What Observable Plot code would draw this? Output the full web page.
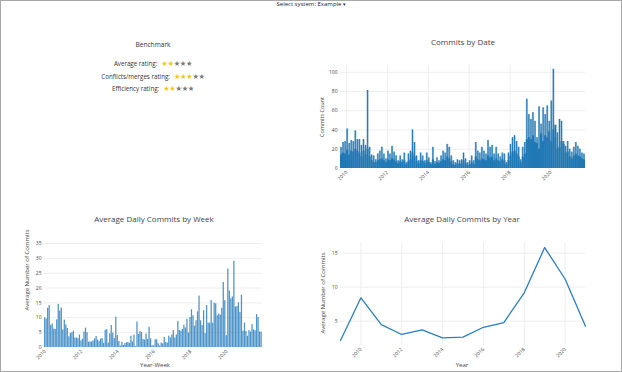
<!DOCTYPE html>
<html><head><meta charset="utf-8">
<script src="https://cdn.jsdelivr.net/npm/d3@7"></script>
<script src="https://cdn.jsdelivr.net/npm/@observablehq/plot@0.6"></script>
<style>
html,body{margin:0;padding:0;background:#fff;}
#page{position:relative;width:622px;height:372px;overflow:hidden;font-family:"Open Sans",sans-serif;color:#444;}
#frame{position:absolute;left:0;top:0;width:620px;height:370px;border:1px solid #a8a8a8;pointer-events:none;z-index:5;}
.abs{position:absolute;white-space:nowrap;}
.chart{position:absolute;}
.chart svg{overflow:visible;}
.row{position:absolute;left:53px;width:200px;text-align:center;font-size:6.2px;color:#333;line-height:8px;}
.star-on{color:#f2c80f;}
.star-off{color:#7a7a7a;}
.stars{font-family:"DejaVu Sans";font-size:7.2px;letter-spacing:-0.3px;margin-left:4px;}
</style></head><body>
<div id="page">
  <div id="frame"></div>
  <div class="abs" style="left:0;width:622px;top:0;text-align:center;font-size:6px;line-height:8px;color:#222;">Select system: Example <span style="font-family:'DejaVu Sans';font-size:5px;">&#9662;</span></div>
  <div class="abs" style="left:53px;width:200px;top:41px;text-align:center;font-size:6.6px;line-height:8px;color:#333;">Benchmark</div>
  <div id="ratings"></div>
  <div id="tr" class="chart" style="left:300px;top:55px;"></div>
  <div id="bl" class="chart" style="left:0px;top:230px;"></div>
  <div id="br" class="chart" style="left:300px;top:232px;"></div>
  <div id="labels"></div>
</div>
<script>
// ---------- data ----------
const ratingNames = ["Average rating:", "Conflicts/merges rating:", "Efficiency rating:"];
const ratingValues = [2, 3, 2];
const ratingMax = 5;

// Commits by Date: binned from 2009.7, one bin = 0.1 year
const dateStart = 2009.7;
const dateStep = 0.1;
const datePeak = [
  22, 27, 28, 41, 26, 29, 28, 39, 30, 30, 24, 30, 24, 81, 22, 14,
  13, 9, 15, 18, 22, 15, 10, 18, 15, 23, 17, 13, 8, 13, 9, 16, 6, 15, 18, 40, 27, 13, 8, 16,
  13, 8, 16, 11, 6, 22, 7, 11, 8, 13, 18, 16, 25, 22, 13, 8, 6, 9, 8, 9,
  16, 10, 6, 8, 13, 8, 27, 18, 16, 22, 18, 15, 29, 22, 24, 15, 22, 15, 12, 16,
  15, 6, 16, 25, 32, 34, 28, 22, 9, 22, 27, 72, 56, 51, 58, 49, 32, 64, 46, 63,
  56, 65, 49, 70, 103, 32, 37, 51, 49, 28, 23, 28, 20, 17, 22, 27, 23, 20, 16, 15
];
const dateBody = [
  14, 16, 15, 19, 14, 18, 17, 20, 18, 16, 12, 18, 14, 20,
  12, 8, 6, 6, 8, 9, 10, 8, 6, 9, 8, 10, 9, 7, 5, 7, 6, 8, 4, 7, 9, 16, 12, 7, 5, 8,
  7, 5, 8, 6, 4, 9, 4, 6, 5, 7, 9, 8, 12, 10, 7, 4, 3, 5, 4, 5,
  8, 5, 3, 4, 6, 4, 12, 9, 8, 10, 9, 8, 13, 11, 12, 8, 10, 8, 7, 9,
  8, 4, 8, 13, 17, 18, 15, 12, 6, 12, 15, 30, 32, 30, 34, 27, 26, 20, 36, 28,
  34, 32, 38, 28, 40, 45, 20, 22, 28, 25, 16, 17, 12, 10, 13, 15, 13, 12, 10, 9
];
const dateTicks = [2010, 2012, 2014, 2016, 2018, 2020];

// Average Daily Commits by Week (12 bars per year from 2010)
const weekFirstYear = 2010;
const weekAvg = [
  10, 9.6, 13.2, 14.1, 7.4, 7.9, 6.2, 6.1, 9.3, 14.5, 12.3, 13.3,
  5.9, 9.2, 7.6, 6.4, 3.6, 4.7, 5.0, 5.5, 3.2, 3.2, 3.0, 4.2,
  2.2, 2.8, 5.2, 6.5, 5.0, 1.8, 1.9, 1.9, 2.2, 2.9, 3.7, 2.5,
  2.0, 2.8, 3.0, 1.4, 5.8, 6.0, 1.5, 4.6, 7.4, 4.8, 3.0, 10.2,
  4.0, 2.0, 0.5, 1.8, 0.7, 1.3, 1.6, 1.7, 1.4, 3.8, 1.9, 4.2,
  0.3, 8.6, 4.4, 5.4, 5.0, 2.7, 2.5, 4.5, 2.7, 6.8, 2.9, 0.6,
  0.5, 2.6, 2.6, 1.3, 0.5, 1.5, 1.2, 3.4, 1.7, 1.5, 3.8, 3.2,
  4.2, 5.7, 3.2, 4.2, 8.7, 5.7, 5.5, 6.1, 7.5, 6.6, 9.5, 4.9,
  10.1, 12.7, 10.7, 7.2, 9.0, 12.0, 17.3, 9.0, 7.4, 12.4, 4.7, 14.1,
  8.2, 8.2, 15.8, 8.2, 14.9, 14.7, 10.7, 11.2, 10.9, 13.2, 21.9, 15.8,
  4.0, 26.4, 19.0, 16.4, 17.0, 29.0, 13.6, 13.8, 15.0, 11.8, 17.6, 5.5,
  8.2, 5.4, 3.8, 5.7, 5.2, 7.7, 5.9, 5.6, 11.1, 10.1, 5.2, 5.2
];
const weekYTicks = [0, 5, 10, 15, 20, 25, 30, 35];

// Average Daily Commits by Year
const years = [2009, 2010, 2011, 2012, 2013, 2014, 2015, 2016, 2017, 2018, 2019, 2020, 2021];
const yearAvg = [2.16, 8.43, 4.5, 3.04, 3.73, 2.55, 2.65, 4.1, 4.8, 9.17, 15.83, 11.2, 4.26];
const yearYTicks = [5, 10, 15];

// ---------- helpers ----------
const ink = "#444";
const grid = "#eeeeee";
const blue = "#1f77b4";
const baseStyle = {fontFamily: "'Open Sans', sans-serif", fontSize: "5px", color: ink, background: "transparent", overflow: "visible"};

function addLabel(text, cx, cy, size, rotate, color) {
  const d = document.createElement("div");
  d.className = "abs";
  d.textContent = text;
  d.style.left = cx + "px";
  d.style.top = cy + "px";
  d.style.fontSize = size + "px";
  d.style.lineHeight = "1";
  d.style.color = color || ink;
  d.style.transform = "translate(-50%,-50%)" + (rotate ? " rotate(" + rotate + "deg)" : "");
  document.getElementById("labels").appendChild(d);
}

// ---------- ratings ----------
const rt = document.getElementById("ratings");
ratingNames.forEach((name, i) => {
  const row = document.createElement("div");
  row.className = "row";
  row.style.top = (60 + i * 12.5) + "px";
  const t = document.createElement("span");
  t.textContent = name;
  const s = document.createElement("span");
  s.className = "stars";
  for (let k = 0; k < ratingMax; k++) {
    const st = document.createElement("span");
    st.className = k < ratingValues[i] ? "star-on" : "star-off";
    st.textContent = "\u2605";
    s.appendChild(st);
  }
  row.appendChild(t);
  row.appendChild(s);
  rt.appendChild(row);
});

// ---------- Commits by Date ----------
const peakRows = datePeak.map((v, i) => ({x1: dateStart + i * dateStep, x2: dateStart + (i + 1) * dateStep, y: v}));
const bodyRows = dateBody.map((v, i) => ({x1: dateStart + i * dateStep, x2: dateStart + (i + 1) * dateStep, y: v}));
document.getElementById("tr").append(Plot.plot({
  width: 300, height: 143,
  marginLeft: 40, marginRight: 15, marginTop: 10, marginBottom: 30,
  style: baseStyle,
  x: {domain: [2009.7, 2021.7]},
  y: {domain: [0, 107]},
  marks: [
    Plot.gridX(dateTicks, {stroke: grid, strokeOpacity: 1}),
    Plot.gridY([20, 40, 60, 80, 100], {stroke: grid, strokeOpacity: 1}),
    // light halo of each spike
    Plot.rectY(peakRows, {x1: "x1", x2: "x2", y: "y", fill: blue, fillOpacity: 0.5}),
    // dark core of each spike
    Plot.rectY(peakRows, {x1: "x1", x2: "x2", y: "y", fill: blue, insetLeft: 0.55, insetRight: 0.55}),
    // dense daily mass
    Plot.rectY(bodyRows, {x1: "x1", x2: "x2", y: "y", fill: blue}),
    Plot.axisX(dateTicks, {tickRotate: -45, tickSize: 0, tickPadding: 3, fontSize: 5, tickFormat: d => String(d), label: null, fill: ink}),
    Plot.axisY([0, 20, 40, 60, 80, 100], {tickSize: 0, tickPadding: 3, fontSize: 5, label: null, fill: ink})
  ]
}));

// ---------- Average Daily Commits by Week ----------
const weekRows = weekAvg.map((v, i) => {
  const x1 = weekFirstYear + (i - 0.5) / 12;
  return {x1, x2: x1 + 1 / 12, y: v};
});
document.getElementById("bl").append(Plot.plot({
  width: 282, height: 142,
  marginLeft: 44, marginRight: 20, marginTop: 10, marginBottom: 25,
  style: baseStyle,
  x: {domain: [weekFirstYear - 0.5 / 12, weekFirstYear - 0.5 / 12 + weekAvg.length / 12]},
  y: {domain: [0, 36]},
  marks: [
    Plot.gridY(weekYTicks.slice(1), {stroke: grid, strokeOpacity: 1}),
    Plot.rectY(weekRows, {x1: "x1", x2: "x2", y: "y", fill: "#2f81bf", fillOpacity: 0.85, insetRight: 0.25}),
    Plot.axisX(dateTicks, {tickRotate: -45, tickSize: 0, tickPadding: 3, fontSize: 5, tickFormat: d => String(d), label: null, fill: ink}),
    Plot.axisY(weekYTicks, {tickSize: 0, tickPadding: 3, fontSize: 5, label: null, fill: ink})
  ]
}));

// ---------- Average Daily Commits by Year ----------
const yearRows = years.map((y, i) => ({x: y, y: yearAvg[i]}));
document.getElementById("br").append(Plot.plot({
  width: 300, height: 138,
  marginLeft: 40, marginRight: 15, marginTop: 10, marginBottom: 25,
  style: baseStyle,
  x: {domain: [2009, 2021]},
  y: {domain: [1.42, 16.57]},
  marks: [
    Plot.gridX(dateTicks, {stroke: grid, strokeOpacity: 1}),
    Plot.gridY(yearYTicks, {stroke: grid, strokeOpacity: 1}),
    Plot.line(yearRows, {x: "x", y: "y", stroke: "#2a7fbf", strokeWidth: 1.3}),
    Plot.axisX(dateTicks, {tickRotate: -45, tickSize: 0, tickPadding: 3, fontSize: 5, tickFormat: d => String(d), label: null, fill: ink}),
    Plot.axisY(yearYTicks, {tickSize: 0, tickPadding: 3, fontSize: 5, label: null, fill: ink})
  ]
}));

// ---------- titles and axis titles ----------
addLabel("Commits by Date", 463, 42, 8);
addLabel("Average Daily Commits by Week", 154, 219, 8);
addLabel("Average Daily Commits by Year", 462, 219, 8);
addLabel("Commits Count", 323, 117, 5.5, -90);
addLabel("Average Number of Commits", 27, 270, 6, -90);
addLabel("Average Number of Commits", 323, 293, 6, -90);
addLabel("Year-Week", 155, 365, 6);
addLabel("Year", 462, 365, 6);
</script>
</body></html>
